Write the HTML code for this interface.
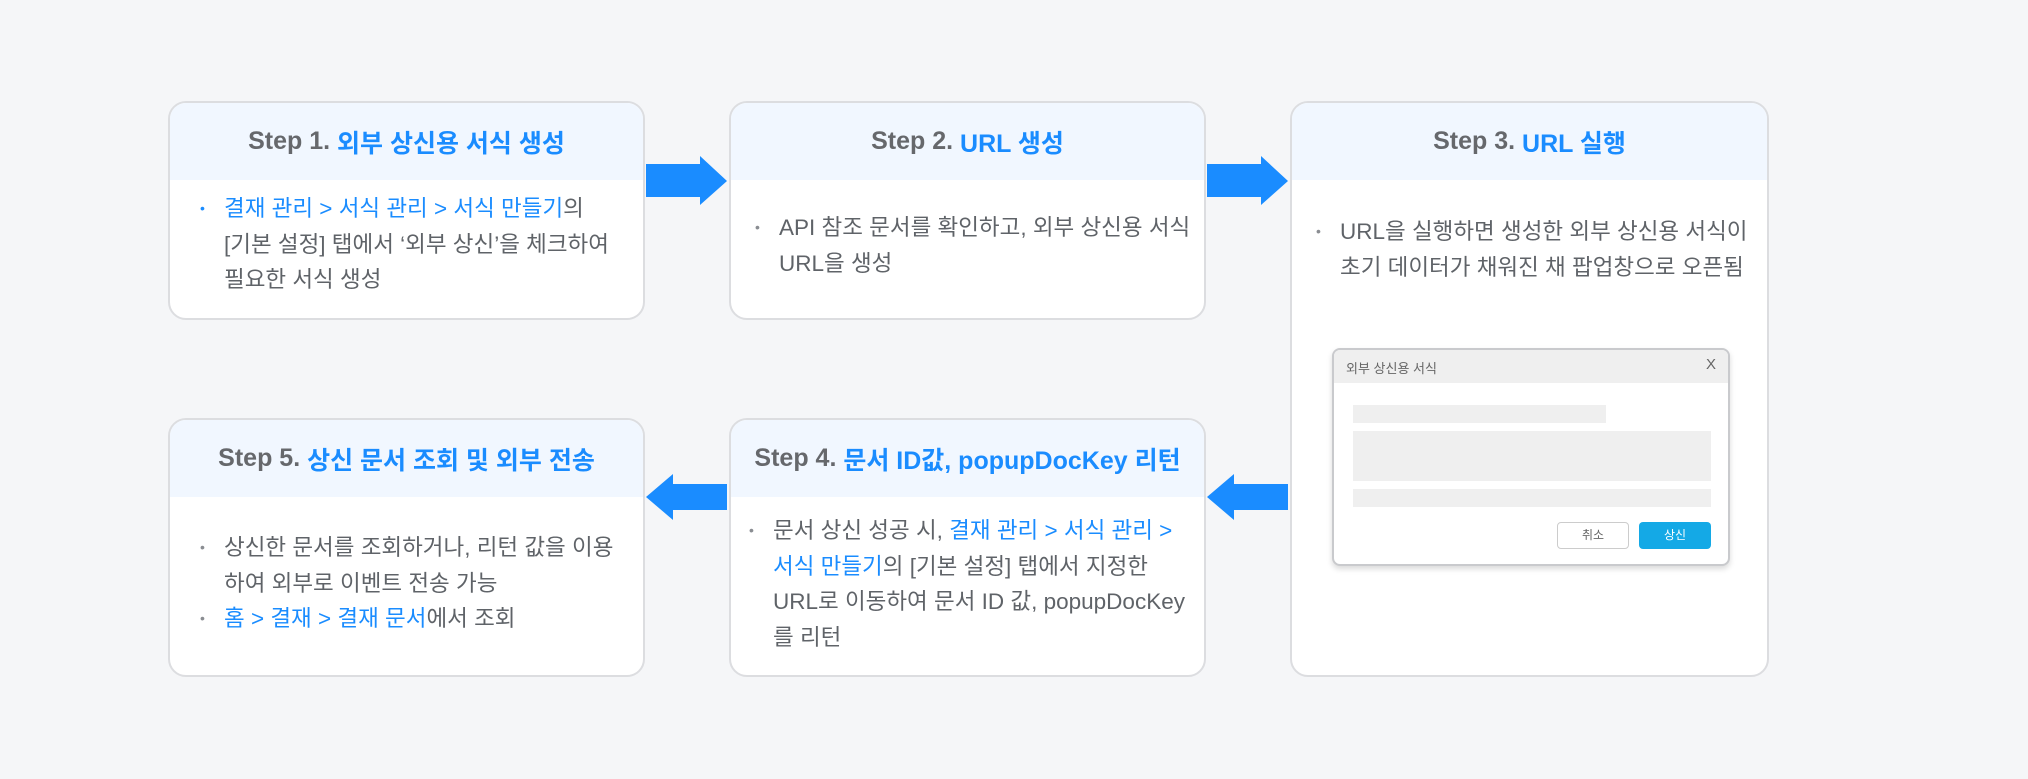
<!DOCTYPE html>
<html><head><meta charset="utf-8"><style>
*{margin:0;padding:0;box-sizing:border-box}
body{width:2028px;height:779px;background:#f5f6f8;position:relative;overflow:hidden;font-family:"Liberation Sans","Noto Sans CJK KR",sans-serif;color:#5f6368}
.card{position:absolute;background:#fff;border:2px solid #dcdde0;border-radius:18px;overflow:hidden}
.hd{height:77px;background:#f1f7ff;display:flex;align-items:center;justify-content:center;font-weight:bold;font-size:25px;color:#66686c}
.b{color:#1a8cff}
.txt{position:absolute;font-size:22.5px;line-height:35.5px;color:#5f6368}
.txt li{list-style:none;position:relative;padding-left:24px}
.txt li:before{content:"•";position:absolute;left:0;top:0;font-size:14px;color:#8a8d92}
.txt li.bl:before{color:#1a8cff}
.arrow{position:absolute}
</style></head><body>

<div class="card" style="left:168px;top:101px;width:477px;height:219px">
 <div class="hd">Step 1.&nbsp;<span class="b">외부 상신용 서식 생성</span></div>
 <ul class="txt" style="left:30px;top:88px;width:412px"><li class="bl"><span class="b">결재 관리 &gt; 서식 관리 &gt; 서식 만들기</span>의 [기본 설정] 탭에서 ‘외부 상신’을 체크하여 필요한 서식 생성</li></ul>
</div>

<div class="card" style="left:729px;top:101px;width:477px;height:219px">
 <div class="hd">Step 2.&nbsp;<span class="b">URL 생성</span></div>
 <ul class="txt" style="left:24px;top:107px;width:440px"><li>API 참조 문서를 확인하고, 외부 상신용 서식 URL을 생성</li></ul>
</div>

<div class="card" style="left:1290px;top:101px;width:479px;height:576px">
 <div class="hd">Step 3.&nbsp;<span class="b">URL 실행</span></div>
 <ul class="txt" style="left:24px;top:111px;width:440px"><li>URL을 실행하면 생성한 외부 상신용 서식이 초기 데이터가 채워진 채 팝업창으로 오픈됨</li></ul>
 <div style="position:absolute;left:40px;top:245px;width:398px;height:218px;border:2px solid #c9cacd;border-radius:8px;background:#fff;box-shadow:0 3px 6px rgba(0,0,0,.15);overflow:hidden">
  <div style="height:33px;background:#efefef;font-size:13px;color:#666;padding:8px 12px;position:relative">외부 상신용 서식<span style="position:absolute;right:12px;top:6px;font-size:15px">X</span></div>
  <div style="position:absolute;left:19px;top:55px;width:253px;height:18px;background:#efefef"></div>
  <div style="position:absolute;left:19px;top:81px;width:358px;height:50px;background:#efefef"></div>
  <div style="position:absolute;left:19px;top:139px;width:358px;height:18px;background:#efefef"></div>
  <div style="position:absolute;left:223px;top:172px;width:72px;height:27px;border:1.5px solid #ccc;border-radius:4px;font-size:12px;text-align:center;line-height:24px;color:#666">취소</div>
  <div style="position:absolute;left:305px;top:172px;width:72px;height:27px;background:#14a9e6;border-radius:4px;font-size:12px;text-align:center;line-height:27px;color:#fff">상신</div>
 </div>
</div>

<div class="card" style="left:168px;top:418px;width:477px;height:259px">
 <div class="hd">Step 5.&nbsp;<span class="b">상신 문서 조회 및 외부 전송</span></div>
 <ul class="txt" style="left:30px;top:110px;width:432px"><li>상신한 문서를 조회하거나, 리턴 값을 이용하여 외부로 이벤트 전송 가능</li><li><span class="b">홈 &gt; 결재 &gt; 결재 문서</span>에서 조회</li></ul>
</div>

<div class="card" style="left:729px;top:418px;width:477px;height:259px">
 <div class="hd">Step 4.&nbsp;<span class="b">문서 ID값, popupDocKey 리턴</span></div>
 <ul class="txt" style="left:18px;top:93px;width:450px"><li>문서 상신 성공 시, <span class="b">결재 관리 &gt; 서식 관리 &gt; 서식 만들기</span>의 [기본 설정] 탭에서 지정한 URL로 이동하여 문서 ID 값, popupDocKey를 리턴</li></ul>
</div>

<svg class="arrow" style="left:0;top:0" width="2028" height="779">
 <polygon fill="#1a8cff" points="646,164 700,164 700,156 727,181 700,205 700,197 646,197"/>
 <polygon fill="#1a8cff" points="1207,164 1261,164 1261,156 1288,181 1261,205 1261,197 1207,197"/>
 <polygon fill="#1a8cff" points="727,484 673,484 673,474 646,497 673,520 673,510 727,510"/>
 <polygon fill="#1a8cff" points="1288,484 1234,484 1234,474 1207,497 1234,520 1234,510 1288,510"/>
</svg>
</body></html>
